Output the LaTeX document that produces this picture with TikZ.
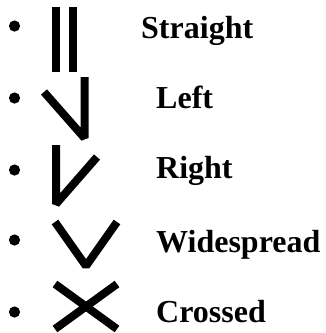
\documentclass[tikz,border=0pt]{standalone}
\usepackage{fontspec}
\setmainfont{Liberation Serif}
\begin{document}
\begin{tikzpicture}[x=1pt,y=-1pt,
  stroke/.style={line width=8pt,line cap=butt,line join=bevel},
  dot/.style={fill=black},
  label/.style={font=\bfseries\fontsize{32}{36}\selectfont,anchor=base west,inner sep=0pt}]
\useasboundingbox (0,0) rectangle (326,333);
% bullets
\foreach \y/\n in {26/b1,98/b2,170/b3,240/b4,312/b5}
  \fill[dot] (14.5,\y) circle (5.6);
% straight
\draw[stroke] (56,7) -- (56,72);
\draw[stroke] (72.5,7) -- (72.5,72);
% left
\draw[stroke] (44,92) -- (84.5,138) -- (84.5,77);
% right
\draw[stroke] (56,145) -- (56,204) -- (97,157);
% widespread
\draw[stroke] (55,222) -- (86,266) -- (117,222);
% crossed
\draw[stroke] (55,284) -- (117,329);
\draw[stroke] (117,284) -- (55,329);
% labels
\node[label] (t1) at (141,38) {Straight};
\node[label] (t2) at (156,108) {Left};
\node[label] (t3) at (156,178) {Right};
\node[label] (t4) at (156,252) {Widespread};
\node[label] (t5) at (156,322) {Crossed};
\end{tikzpicture}
\end{document}
